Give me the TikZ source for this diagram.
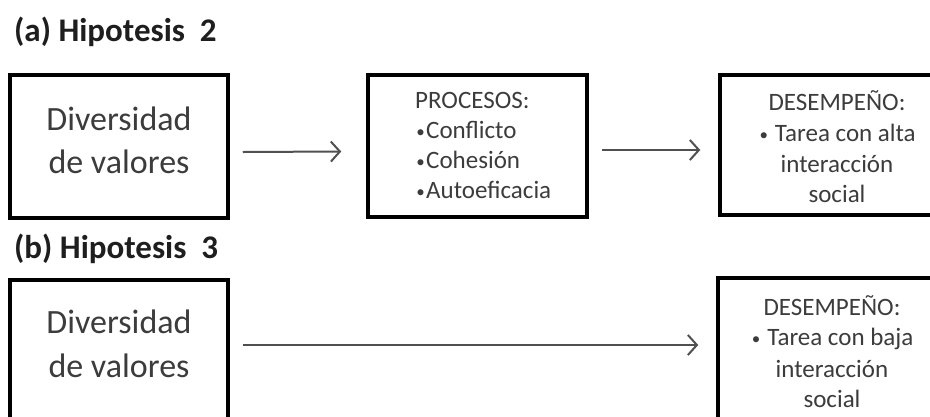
\documentclass[tikz,border=0pt]{standalone}
\usepackage{fontspec}
\setmainfont{Carlito}
\usetikzlibrary{arrows.meta,calc}
\definecolor{txtgray}{HTML}{3C3C3C}
\definecolor{titlecol}{HTML}{1E1E1E}
\definecolor{arrgray}{HTML}{505050}
\newcommand{\smbul}{\makebox[11pt][c]{\raisebox{1pt}{\fontsize{17}{17}\selectfont•}}}
\tikzset{
  boxnode/.style={draw=black, line width=3.5pt, rectangle, inner sep=0pt},
  bigtxt/.style={font=\fontsize{34}{40}\selectfont, text=txtgray, anchor=base, inner sep=0pt},
  smalltxt/.style={font=\fontsize{25}{30}\selectfont, text=txtgray, anchor=base, inner sep=0pt},
  smalltxtl/.style={smalltxt, anchor=base west},
  titletxt/.style={font=\fontsize{33}{38}\selectfont\bfseries, text=titlecol, anchor=base west, inner sep=0pt},
  arr/.style={draw=arrgray, line width=2pt, -{Straight Barb[length=9pt,width=20pt,line width=2pt]}},
}
\begin{document}
\begin{tikzpicture}[x=1pt,y=-1pt]
\clip (0,0) rectangle (930,416);
\fill[white] (0,0) rectangle (930,416);
% (a)
\node[titletxt] (ta) at (14,41) {(a) Hipotesis\hspace{0.45em}2};
\node[boxnode, minimum width=218pt, minimum height=143pt] (b1) at (119,146.5) {};
\node[bigtxt] (b1l1) at (119,130) {Diversidad};
\node[bigtxt] (b1l2) at (119,173) {de valores};
\node[boxnode, minimum width=219pt, minimum height=142pt] (b2) at (477.5,146) {};
\node[smalltxtl] (b2l1) at (415,108) {PROCESOS:};
\node[smalltxtl] (b2l2) at (415,138) {\smbul Conflicto};
\node[smalltxtl] (b2l3) at (415,168) {\smbul Cohesión};
\node[smalltxtl] (b2l4) at (415,198) {\smbul Autoeficacia};
\node[boxnode, minimum width=230pt, minimum height=140pt] (b3) at (835,145) {};
\node[smalltxt] (b3l1) at (837,110) {DESEMPEÑO:};
\node[smalltxt] (b3l2) at (837,141) {\smbul\ Tarea con alta};
\node[smalltxt] (b3l3) at (837,172) {interacción};
\node[smalltxt] (b3l4) at (837,202) {social};
\draw[arr] ($(b1.east)+(13,5.5)$) -- ($(b2.west)+(-25,5.5)$);
\draw[arr] ($(b2.east)+(13,4)$) -- ($(b3.west)+(-18,5)$);
% (b)
\node[titletxt] (tb) at (14,258) {(b) Hipotesis\hspace{0.45em}3};
\node[boxnode, minimum width=218pt, minimum height=150pt] (b4) at (119,355) {};
\node[bigtxt] (b4l1) at (119,333) {Diversidad};
\node[bigtxt] (b4l2) at (119,377) {de valores};
\node[boxnode, minimum width=232pt, minimum height=152pt] (b6) at (834,354) {};
\node[smalltxt] (b6l1) at (832,315) {DESEMPEÑO:};
\node[smalltxt] (b6l2) at (832,345) {\smbul\ Tarea con baja};
\node[smalltxt] (b6l3) at (832,377) {interacción};
\node[smalltxt] (b6l4) at (832,407) {social};
\draw[arr] ($(b4.east)+(13,-10)$) -- ($(b6.west)+(-18,-9)$);
\end{tikzpicture}
\end{document}
